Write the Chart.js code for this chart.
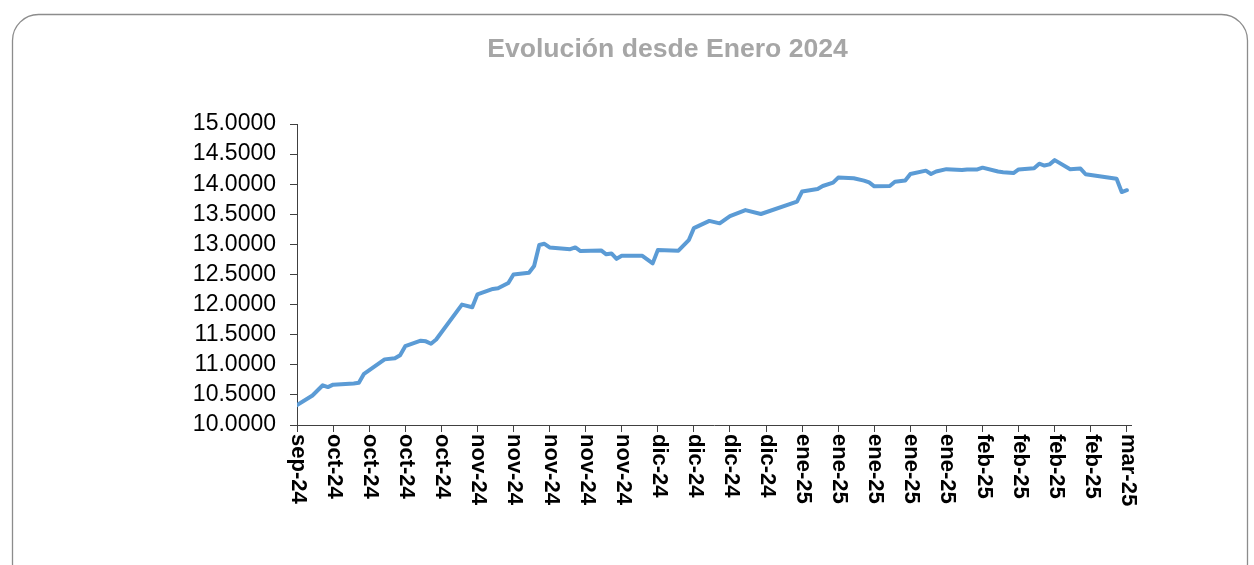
<!DOCTYPE html>
<html><head><meta charset="utf-8">
<script src="https://cdn.jsdelivr.net/npm/chart.js@4.4.1/dist/chart.umd.min.js"></script>
<style>html,body{margin:0;padding:0;background:#fff}#wrap{width:1254px;height:565px;position:relative}</style>
</head><body><div id="wrap"><canvas id="c" width="1254" height="565"></canvas></div>
<script>
const chartTitle = 'Evolución desde Enero 2024';
// x tick labels (weekly, starting 27-sep-24) and their day offsets
const tickLabels = ['sep-24','oct-24','oct-24','oct-24','oct-24','nov-24','nov-24','nov-24','nov-24','nov-24','dic-24','dic-24','dic-24','dic-24','ene-25','ene-25','ene-25','ene-25','ene-25','feb-25','feb-25','feb-25','feb-25','mar-25'];
const tickDays = [0,7,14,21,28,35,42,49,56,63,70,77,84,91,98,105,112,119,126,133,140,147,154,161];
// series: day offset from 27-sep-24 and value
const dayOffsets = [0,3,5,6,7,11,12,13,17,19,20,21,24,25,26,27,32,34,35,38,39,41,42,45,46,47,48,49,53,54,55,59,60,61,62,63,67,69,70,74,76,77,80,82,84,87,90,97,98,101,102,104,105,108,110,111,112,115,116,118,119,122,123,124,126,129,130,132,133,136,137,139,140,143,144,145,146,147,150,152,153,159,160,161];
const values = [10.33,10.49,10.66,10.63,10.67,10.69,10.70,10.85,11.09,11.11,11.16,11.31,11.40,11.39,11.35,11.42,12.00,11.955,12.17,12.26,12.27,12.36,12.50,12.53,12.64,12.99,13.01,12.95,12.92,12.95,12.89,12.90,12.835,12.85,12.76,12.81,12.81,12.685,12.905,12.895,13.07,13.27,13.39,13.35,13.47,13.57,13.505,13.71,13.88,13.92,13.97,14.025,14.11,14.10,14.06,14.03,13.965,13.97,14.04,14.06,14.17,14.225,14.17,14.21,14.25,14.235,14.245,14.245,14.275,14.21,14.20,14.185,14.245,14.265,14.34,14.31,14.33,14.40,14.25,14.26,14.165,14.09,13.87,13.90];
const yMin = 10, yMax = 15, yStep = 0.5;

const points = dayOffsets.map((d, i) => ({x: d, y: values[i]}));
const FONT = "'Liberation Sans', Arial, sans-serif";

const framePlugin = {
  id: 'frame',
  beforeDraw(chart) {
    const ctx = chart.ctx;
    ctx.save();
    ctx.fillStyle = '#ffffff';
    ctx.fillRect(0, 0, chart.width, chart.height);
    ctx.strokeStyle = '#8c8c8c';
    ctx.lineWidth = 1.3;
    ctx.beginPath();
    ctx.roundRect(12.5, 14.5, 1235, 575, 26);
    ctx.stroke();
    ctx.fillStyle = '#a6a6a6';
    ctx.font = 'bold 26.6px ' + FONT;
    ctx.textAlign = 'center';
    ctx.textBaseline = 'middle';
    ctx.fillText(chartTitle, 667.5, 50);
    ctx.restore();
  },
  afterDraw(chart) {
    const ctx = chart.ctx;
    const xs = chart.scales.x;
    ctx.save();
    ctx.fillStyle = '#000000';
    ctx.font = 'bold 22px ' + FONT;
    ctx.textAlign = 'left';
    ctx.textBaseline = 'alphabetic';
    tickDays.forEach((d, i) => {
      const px = xs.getPixelForValue(d);
      ctx.save();
      ctx.translate(px, 434);
      ctx.rotate(Math.PI / 2);
      ctx.fillText(tickLabels[i], 0, 5);
      ctx.restore();
    });
    ctx.restore();
  }
};

new Chart(document.getElementById('c'), {
  type: 'line',
  data: {
    datasets: [{
      data: points,
      borderColor: '#5b9bd5',
      borderWidth: 4,
      pointRadius: 0,
      tension: 0,
      fill: false,
      borderJoinStyle: 'round',
      borderCapStyle: 'round'
    }]
  },
  plugins: [framePlugin],
  options: {
    responsive: false,
    animation: false,
    events: [],
    layout: { padding: { top: 124, right: 123, bottom: 0, left: 0 } },
    plugins: { legend: { display: false }, title: { display: false }, tooltip: { enabled: false } },
    scales: {
      x: {
        type: 'linear',
        min: 0,
        max: 161.8,
        afterBuildTicks(scale) { scale.ticks = tickDays.map(v => ({ value: v })); },
        afterFit(scale) { scale.height = 140; },
        ticks: { display: false },
        grid: { drawOnChartArea: false, drawTicks: true, tickLength: 7, color: '#404040', lineWidth: 1 },
        border: { display: true, color: '#404040', width: 1 }
      },
      y: {
        min: yMin,
        max: yMax,
        afterFit(scale) { scale.width = 297; },
        ticks: {
          stepSize: yStep,
          autoSkip: false,
          color: '#000000',
          padding: 14,
          font: { family: FONT, size: 23 },
          callback: v => Number(v).toFixed(4)
        },
        grid: { drawOnChartArea: false, drawTicks: true, tickLength: 7, color: '#404040', lineWidth: 1 },
        border: { display: true, color: '#404040', width: 1 }
      }
    }
  }
});
</script>
</body></html>
